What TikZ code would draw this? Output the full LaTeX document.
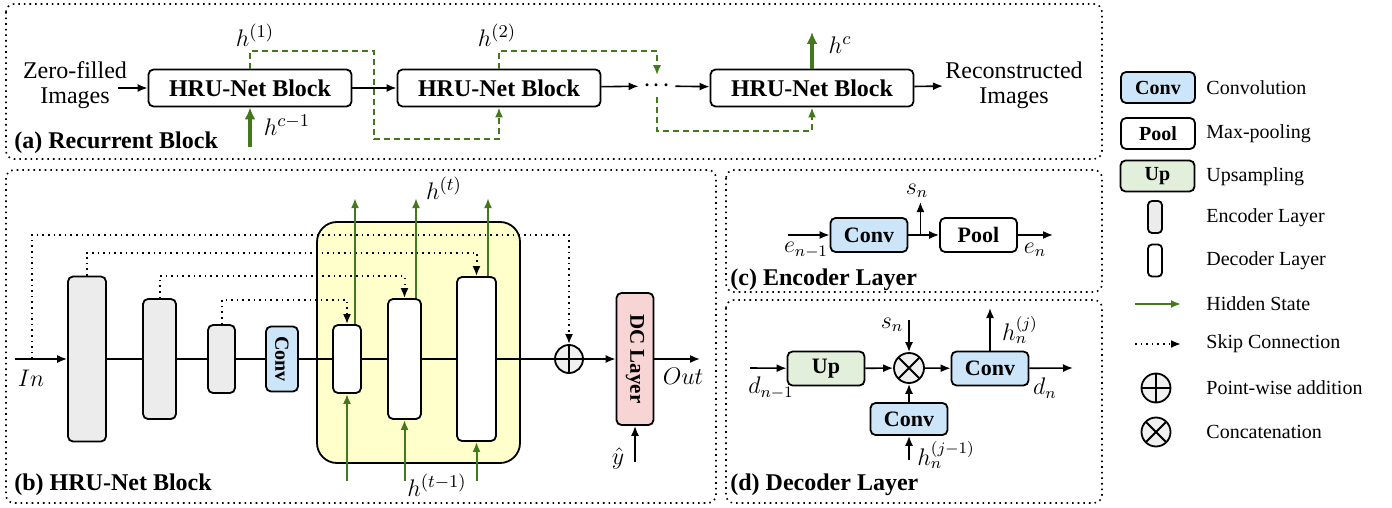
\documentclass[tikz,border=0pt]{standalone}
\usepackage{amsmath}
\usepackage{graphicx}
\usepackage{fontspec}
\setmainfont{LiberationSerif}[Extension=.ttf,UprightFont=*-Regular,BoldFont=*-Bold,ItalicFont=*-Italic,BoldItalicFont=*-BoldItalic]
\usepackage{tikz}
\usetikzlibrary{arrows.meta,positioning,calc}
\definecolor{convblue}{RGB}{205,229,248}
\definecolor{upgreen}{RGB}{226,239,218}
\definecolor{dcpink}{RGB}{248,213,213}
\definecolor{encgray}{RGB}{236,236,236}
\definecolor{opgray}{RGB}{240,240,240}
\definecolor{yellowbg}{RGB}{255,255,204}
\definecolor{hgreen}{RGB}{68,120,28}

\begin{document}
\begin{tikzpicture}[x=0.5pt,y=-0.5pt,
 arr/.style={-{Latex[length=5pt,width=4pt]},line width=0.8pt},
 hid/.style={draw=hgreen,line width=1pt,-{Latex[length=5pt,width=4pt]}},
 thk/.style={draw=hgreen,line width=2pt,-{Latex[length=6pt,width=5.5pt]}},
 hdash/.style={hid,dash pattern=on 3pt off 2pt},
 skip/.style={arr,dotted,line width=1pt},
 lay/.style={draw,rounded corners=2.5pt,line width=0.9pt,inner sep=0},
 blk/.style={lay,minimum width=101.5pt,minimum height=18.5pt,font=\bfseries\fontsize{12}{14}\selectfont},
 enc/.style={lay,fill=encgray},
 dec/.style={lay,fill=white},
 box/.style={lay,minimum width=38.5pt,minimum height=17pt,font=\bfseries\fontsize{11}{13}\selectfont},
 lbox/.style={lay,minimum width=37pt,minimum height=15.5pt,font=\bfseries\fontsize{10}{12}\selectfont},
 op/.style={draw,circle,line width=0.9pt,fill=opgray,inner sep=0},
 oplus/.style={op,path picture={\draw[line width=0.9pt] (path picture bounding box.north) -- (path picture bounding box.south) (path picture bounding box.west) -- (path picture bounding box.east);}},
 otimes/.style={op,path picture={\draw[line width=0.9pt] (path picture bounding box.north west) -- (path picture bounding box.south east) (path picture bounding box.north east) -- (path picture bounding box.south west);}},
 panel/.style={draw,dotted,line width=0.8pt,rounded corners=4pt},
 ttl/.style={anchor=west,inner sep=1pt,font=\bfseries\fontsize{12}{14}\selectfont},
 txt/.style={align=center,inner sep=1pt,font=\fontsize{12}{12.5}\selectfont},
 leg/.style={anchor=west,inner sep=1pt,font=\fontsize{10}{12}\selectfont},
 ml/.style={inner sep=1pt,font=\fontsize{13}{15}\selectfont},
 sl/.style={inner sep=1pt,font=\fontsize{12}{14}\selectfont}]

\useasboundingbox (0,0) rectangle (1392,508);

\draw[panel] (6,4) rectangle (1102,159);
\draw[panel] (6,170) rectangle (716,503);
\draw[panel] (726,170) rectangle (1102,292);
\draw[panel] (726,300) rectangle (1102,503);

\node[txt] (zf) at (75,85) {Zero-filled\\Images};
\node[blk] (b1) at (250,88) {HRU-Net Block};
\node[blk] (b2) at (499,88) {HRU-Net Block};
\node[font=\fontsize{15}{15}\selectfont,inner sep=2pt] (dots) at (657,86) {${\cdot}\hspace{1pt}{\cdot}\hspace{1pt}{\cdot}$};
\node[blk] (b3) at (812,88) {HRU-Net Block};
\node[txt] (rec) at (1014,85) {Reconstructed\\Images};
\coordinate (zfin) at (118,88);
\coordinate (hcout) at (812,32);
\coordinate (hcin) at (250,147);
\coordinate (low) at (700,131);
\draw[arr] (zfin) -- (b1);
\draw[arr] (b1) -- (b2);
\draw[arr] (b2) -- (dots);
\draw[arr] (dots) -- (b3);
\draw[arr] (b3) -- (rec);
\draw[thk] (b3.north) -- (hcout);
\draw[thk] (hcin) -- (b1.south);
\draw[hdash] (b1.north) -- ++(0,-18) -| (374,139) -| (b2.south);
\draw[hdash] (b2.north) -- ++(0,-18) -| (dots.north);
\draw[hdash] (dots.south) -- (dots.south |- low) -| (b3.south);
\node[ml] (h1) at (255,35) {$h^{(1)}$};
\node[ml] (h2) at (497,35) {$h^{(2)}$};
\node[ml] (hc) at (840,45) {$h^{c}$};
\node[ml] (hcm) at (287,125) {$h^{c-1}$};
\node[ttl] (ta) at (12,143) {(a) Recurrent Block};

\draw[line width=0.9pt,fill=yellowbg,rounded corners=10pt] (317,222) rectangle (520,463);
\node[enc,minimum width=19pt,minimum height=82.5pt] (enc1) at (87,359) {};
\node[enc,minimum width=16.5pt,minimum height=60pt] (enc2) at (159.5,359) {};
\node[enc,minimum width=13.5pt,minimum height=34pt] (enc3) at (221.5,359) {};
\node[lay,fill=convblue,minimum width=16pt,minimum height=32.5pt,font=\bfseries\fontsize{10}{12}\selectfont] (conv) at (282,359) {\rotatebox{-90}{Conv}};
\node[dec,minimum width=14pt,minimum height=34pt] (dec1) at (347,359) {};
\node[dec,minimum width=16.5pt,minimum height=60pt] (dec2) at (404.5,359) {};
\node[dec,minimum width=19.5pt,minimum height=82pt] (dec3) at (476.5,359) {};
\node[oplus,minimum size=14pt] (plus) at (569,359) {};
\node[lay,fill=dcpink,minimum width=18.5pt,minimum height=66pt,font=\bfseries\fontsize{10.5}{12}\selectfont] (dc) at (635,359) {\rotatebox{-90}{DC Layer}};
\coordinate (inc) at (15,359);
\coordinate (ins) at (32,359);
\coordinate (outc) at (700,359);
\coordinate (yh) at (635,462);
\draw[arr] (inc) -- (enc1);
\draw[line width=0.8pt] (enc1) -- (enc2) -- (enc3) -- (conv) -- (dec1) -- (dec2) -- (dec3) -- (plus);
\draw[arr] (plus) -- (dc);
\draw[arr] (dc) -- (outc);
\draw[arr] (yh) -- (dc);
\draw[skip] (ins) -- ++(0,-124) -| (plus.north);
\draw[skip] (enc1.north) -- ++(0,-23) -| (dec3.north);
\draw[skip] (enc2.north) -- ++(0,-22) -| (dec2.north);
\draw[skip] (enc3.north) -- ++(0,-24) -| (dec1.north);
\draw[hid] ([xshift=4pt]dec1.north) -- ++(0,-126);
\draw[hid] ([xshift=5.75pt]dec2.north) -- ++(0,-100);
\draw[hid] ([xshift=5.75pt]dec3.north) -- ++(0,-78);
\foreach \n/\x in {dec1/347,dec2/404.5,dec3/476.5}
 \draw[hid] (\x,481) -- (\n.south);
\node[ml] (inl) at (31,378) {$In$};
\node[ml] (outl) at (683,376) {$Out$};
\node[ml] (yhl) at (618,458) {$\hat{y}$};
\node[ml] (ht) at (444,188) {$h^{(t)}$};
\node[ml] (htm) at (437,485) {$h^{(t-1)}$};
\node[ttl] (tb) at (12,485) {(b) HRU-Net Block};

\node[box,fill=convblue] (cconv) at (869,235) {Conv};
\node[box,fill=white] (pool) at (978.5,235) {Pool};
\coordinate (ein) at (788,235);
\coordinate (eout) at (1053,235);
\draw[arr] (ein) -- (cconv);
\draw[arr] (cconv) -- (pool);
\draw[arr] (pool) -- (eout);
\draw[arr] ([xshift=6pt]cconv.east) -- ++(0,-33);
\node[sl] (en1) at (806,250) {$e_{n-1}$};
\node[sl] (en) at (1035,250) {$e_n$};
\node[sl] (sn1) at (917,191) {$s_n$};
\node[ttl] (tc) at (728,280) {(c) Encoder Layer};

\node[box,fill=upgreen] (up) at (826,368.5) {Up};
\node[otimes,minimum size=15pt] (cat) at (909,368) {};
\node[box,fill=convblue] (dconv) at (990,368.5) {Conv};
\node[box,fill=convblue,minimum height=16pt] (lconv) at (909,419) {Conv};
\coordinate (din) at (750,368);
\coordinate (dout) at (1073,368);
\coordinate (snin) at (909,320);
\coordinate (hjout) at (990,308);
\coordinate (hjin) at (909,460);
\draw[arr] (din) -- (up);
\draw[arr] (up) -- (cat);
\draw[arr] (cat) -- (dconv);
\draw[arr] (dconv) -- (dout);
\draw[arr] (snin) -- (cat);
\draw[arr] (lconv) -- (cat);
\draw[arr] (hjin) -- (lconv);
\draw[arr] (dconv.north) -- (hjout);
\node[sl] (dn1) at (771,388) {$d_{n-1}$};
\node[sl] (sn2) at (892,325) {$s_n$};
\node[sl] (hj) at (1020,330) {$h_n^{(j)}$};
\node[sl] (dn) at (1045,388) {$d_n$};
\node[sl] (hjm) at (946,455) {$h_n^{(j-1)}$};
\node[ttl] (td) at (728,485) {(d) Decoder Layer};

\node[lbox,fill=convblue] (lg1) at (1158,87.5) {Conv};
\node[lbox,fill=white] (lg2) at (1158,133.5) {Pool};
\node[lbox,fill=upgreen] (lg3) at (1157.5,176) {Up};
\node[enc,minimum width=7pt,minimum height=16pt,rounded corners=2pt] (lg4) at (1155,217) {};
\node[dec,minimum width=7pt,minimum height=16pt,rounded corners=2pt] (lg5) at (1155,260.5) {};
\coordinate (lg6a) at (1135,304);
\coordinate (lg6b) at (1181,304);
\coordinate (lg7a) at (1135,344);
\coordinate (lg7b) at (1181,344);
\draw[hid] (lg6a) -- (lg6b);
\draw[skip] (lg7a) -- (lg7b);
\node[oplus,minimum size=14.5pt] (lg8) at (1156,388) {};
\node[otimes,minimum size=14.5pt] (lg9) at (1156,432) {};
\node[leg] at (1204,88) {Convolution};
\node[leg] at (1204,134) {Max-pooling};
\node[leg] at (1204,177) {Upsampling};
\node[leg] at (1204,218) {Encoder Layer};
\node[leg] at (1204,261) {Decoder Layer};
\node[leg] at (1204,304) {Hidden State};
\node[leg] at (1204,344) {Skip Connection};
\node[leg] at (1204,388) {Point-wise addition};
\node[leg] at (1204,432) {Concatenation};
\end{tikzpicture}
\end{document}
